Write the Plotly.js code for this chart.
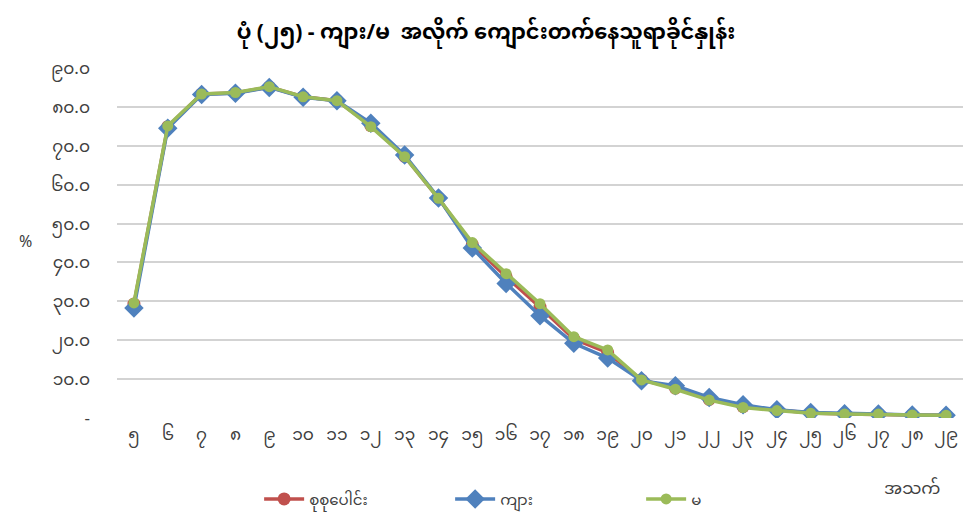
<!DOCTYPE html>
<html>
<head>
<meta charset="utf-8">
<script src="https://cdn.plot.ly/plotly-3.0.1.min.js"></script>
<style>html,body{margin:0;padding:0;background:#fff;}#chart{width:972px;height:523px;}</style>
</head>
<body>
<div id="chart"></div>
<script>
// Age categories (Myanmar numerals 5..29)
const ages = ['၅','၆','၇','၈','၉','၁၀','၁၁','၁၂','၁၃','၁၄','၁၅','၁၆','၁၇','၁၈','၁၉','၂၀','၂၁','၂၂','၂၃','၂၄','၂၅','၂၆','၂၇','၂၈','၂၉'];
const totalVals = [29.3, 74.9, 83.3, 83.6, 85.1, 82.6, 81.6, 75.2, 67.3, 56.5, 44.6, 36.3, 28.5, 20.3, 16.8, 9.8, 7.7, 4.8, 2.9, 2.0, 1.3, 1.0, 1.0, 0.8, 0.7];
const maleVals  = [28.3, 74.5, 83.2, 83.5, 85.0, 82.5, 81.6, 75.8, 67.6, 56.6, 43.7, 34.6, 26.3, 19.2, 15.4, 9.6, 8.3, 5.3, 3.4, 2.1, 1.4, 1.1, 1.0, 0.8, 0.7];
const femaleVals= [29.6, 75.1, 83.3, 83.7, 85.2, 82.6, 81.6, 74.9, 67.2, 56.5, 45.1, 37.1, 29.4, 20.9, 17.5, 9.8, 7.4, 4.6, 2.7, 1.9, 1.2, 1.0, 1.0, 0.8, 0.7];
const seriesNames = ['စုစုပေါင်း','ကျား','မ'];
const yTickVals = [0,10,20,30,40,50,60,70,80,90];
const yTickText = ['-','၁၀.၀','၂၀.၀','၃၀.၀','၄၀.၀','၅၀.၀','၆၀.၀','၇၀.၀','၈၀.၀','၉၀.၀'];

const fam = '"Noto Sans Myanmar", "Myanmar Text", Padauk, "Noto Sans", "DejaVu Sans", sans-serif';

const traces = [
  {x: ages, y: totalVals, name: seriesNames[0], type:'scatter', mode:'lines+markers',
   line:{color:'#C0504D', width:3.5}, marker:{symbol:'circle', size:13, color:'#C0504D'}},
  {x: ages, y: maleVals, name: seriesNames[1], type:'scatter', mode:'lines+markers',
   line:{color:'#4F81BD', width:3.5}, marker:{symbol:'diamond', size:15, color:'#4F81BD'}},
  {x: ages, y: femaleVals, name: seriesNames[2], type:'scatter', mode:'lines+markers',
   line:{color:'#9BBB59', width:3.5}, marker:{symbol:'circle', size:11, color:'#9BBB59'}}
];

const layout = {
  width: 972, height: 523,
  margin: {l:117, r:9, t:68, b:105, autoexpand:false},
  paper_bgcolor:'#fff', plot_bgcolor:'#fff',
  font: {family: fam, color:'#404040', size:16},
  title: {text:'<b>ပုံ (၂၅) - ကျား/မ  အလိုက် ကျောင်းတက်နေသူရာခိုင်နှုန်း</b>', x:0.5, xref:'container', y:0.94, yanchor:'middle',
          font:{family: fam, size:21, color:'#000'}},
  xaxis: {type:'category', range:[-0.5, 24.5], autorange:false, showgrid:false, zeroline:false, showline:false, ticks:'',
          tickfont:{size:17, color:'#404040'}, ticklabelstandoff:4, fixedrange:true},
  yaxis: {range:[0,90], autorange:false, tickvals:yTickVals, ticktext:yTickText, showgrid:true, gridcolor:'#D3D3D3', gridwidth:2,
          zeroline:false, showline:false, ticks:'', ticklabelstandoff:26,
          tickfont:{size:17, color:'#404040'}, fixedrange:true},
  showlegend: true,
  legend: {orientation:'h', x:0.168, xanchor:'left', y:-0.232, yanchor:'middle',
           font:{size:15, color:'#404040'}, entrywidth:136, itemwidth:40, traceorder:'normal'},
  annotations: [
    {text:'အသက်', xref:'paper', yref:'paper', x:0.94, y:-0.205, xanchor:'center', yanchor:'middle', showarrow:false, font:{size:17, color:'#404040'}},
    {text:'%', xref:'paper', yref:'paper', x:-0.108, y:0.5, xanchor:'center', yanchor:'middle', showarrow:false, font:{size:16, color:'#404040'}}
  ]
};

Plotly.newPlot('chart', traces, layout, {displayModeBar:false, staticPlot:true});
</script>
</body>
</html>
